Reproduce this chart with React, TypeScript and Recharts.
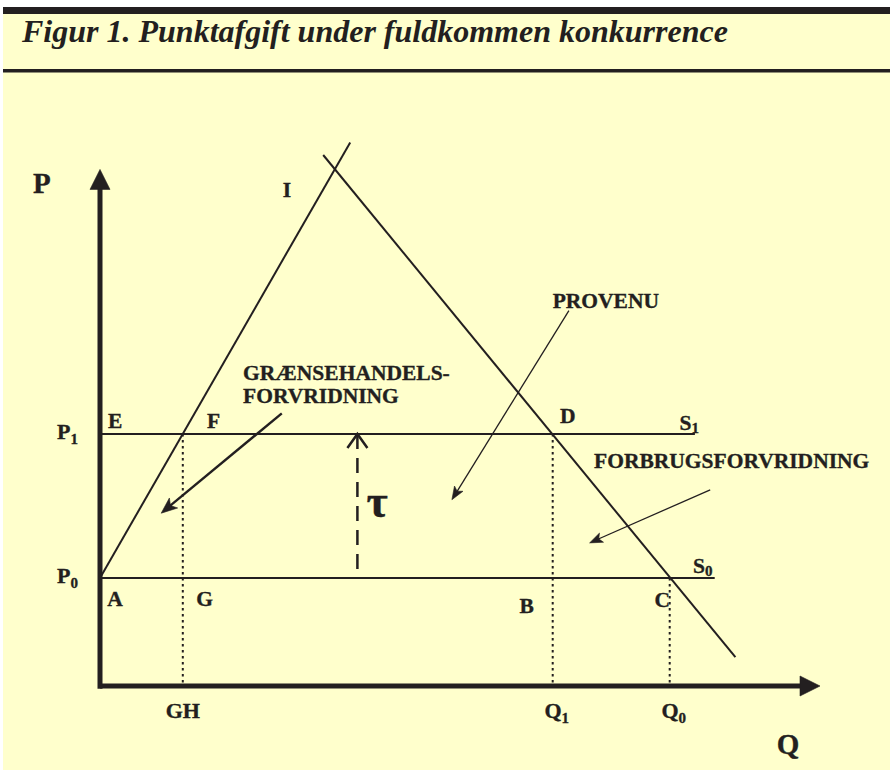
import React from 'react';
import { ComposedChart, Line, XAxis, YAxis, ReferenceLine, ReferenceDot } from 'recharts';

const INK = '#231f20';
const BG = '#ffffcc';
const FONT = "'Liberation Serif', 'Times New Roman', Times, serif";
const TITLE = 'Figur 1. Punktafgift under fuldkommen konkurrence';

// Axis ticks (quantities and prices)
const xTicks = [9.2, 50.3, 63.3];
const xTickLabels = [['GH', ''], ['Q', '1'], ['Q', '0']];
const yTicks = [12, 28];
const yTickLabels = [['P', '0'], ['P', '1']];

// Series
const supplyS0 = [{ q: 0, p: 12 }, { q: 68.3, p: 12 }];
const supplyS1 = [{ q: 0, p: 28 }, { q: 66.1, p: 28 }];
const demand = [{ q: 24.8, p: 59 }, { q: 70.6, p: 3.2 }];
const borderTrade = [{ q: 0, p: 12 }, { q: 27.8, p: 60.4 }];
const dropGH = [{ q: 9.2, p: 28 }, { q: 9.2, p: 0 }];
const dropQ1 = [{ q: 50.3, p: 28 }, { q: 50.3, p: 0 }];
const dropQ0 = [{ q: 63.3, p: 12 }, { q: 63.3, p: 0 }];

// Arrows: [from, to]
const axisArrows = [
  { from: [0, -0.3], to: [0, 57.4], kind: 'axis' },
  { from: [0, 0], to: [80, 0], kind: 'axis' },
];
const taxArrow = [{ from: [28.6, 12.9], to: [28.6, 28], kind: 'dashed' }];
const noteArrows = [
  { from: [20.2, 30.3], to: [6.8, 19.2], kind: 'thick' },
  { from: [52.1, 41.7], to: [39.1, 20.7], kind: 'thin' },
  { from: [67.8, 21.8], to: [54.4, 15.9], kind: 'thin' },
];

// Text labels
const pointLabels = [
  { text: 'P', q: -7.44, p: 54.8, size: 29 },
  { text: 'I', q: 20.3, p: 54.3 },
  { text: 'E', q: 0.9, p: 28.7 },
  { text: 'F', q: 11.9, p: 28.7 },
  { text: 'D', q: 51.1, p: 29.2 },
  { text: 'S', sub: '1', q: 64.4, p: 28.4 },
  { text: 'S', sub: '0', q: 65.9, p: 12.6 },
  { text: 'A', q: 0.8, p: 8.9 },
  { text: 'G', q: 10.7, p: 8.9 },
  { text: 'B', q: 46.6, p: 8.1 },
  { text: 'C', q: 61.6, p: 8.8 },
  { text: 'Q', q: 75.2, p: -7.6, size: 29 },
  { text: 'τ', q: 29.6, p: 18.8, size: 46 },
  { text: 'GRÆNSEHANDELS-', q: 15.9, p: 34 },
  { text: 'FORVRIDNING', q: 15.9, p: 31.4 },
  { text: 'PROVENU', q: 50.3, p: 42 },
  { text: 'FORBRUGSFORVRIDNING', q: 54.9, p: 24.2 },
];

const STYLES: any = {
  axis: { w: 5, head: 20, half: 10, notch: 20 },
  thick: { w: 2.4, head: 16, half: 6.5, notch: 12 },
  thin: { w: 1.3, head: 13, half: 5, notch: 10 },
};

function makeArrow(kind: string) {
  return (props: any) => {
    const { x1, y1, x2, y2 } = props;
    const dx = x2 - x1;
    const dy = y2 - y1;
    const len = Math.hypot(dx, dy) || 1;
    const ux = dx / len;
    const uy = dy / len;
    const nx = -uy;
    const ny = ux;
    if (kind === 'dashed') {
      const b = 14;
      const h = 10;
      return (
        <g>
          <line x1={x2} y1={y2} x2={x1} y2={y1} stroke={INK} strokeWidth={2.5} strokeDasharray="15 9" />
          <polyline
            points={`${x2 - ux * b + nx * h},${y2 - uy * b + ny * h} ${x2},${y2} ${x2 - ux * b - nx * h},${y2 - uy * b - ny * h}`}
            fill="none"
            stroke={INK}
            strokeWidth={2.5}
          />
        </g>
      );
    }
    const s = STYLES[kind];
    const bx = x2 - ux * s.head;
    const by = y2 - uy * s.head;
    const pts = [
      [x2, y2],
      [bx + nx * s.half, by + ny * s.half],
      [x2 - ux * s.notch, y2 - uy * s.notch],
      [bx - nx * s.half, by - ny * s.half],
    ]
      .map((p) => p.join(','))
      .join(' ');
    const ex = x2 - ux * (s.notch - 1);
    const ey = y2 - uy * (s.notch - 1);
    return (
      <g>
        <line x1={x1} y1={y1} x2={ex} y2={ey} stroke={INK} strokeWidth={s.w} />
        <polygon points={pts} fill={INK} stroke={INK} strokeWidth={0.6} strokeLinejoin="miter" />
      </g>
    );
  };
}

function labelShape(lab: any) {
  return (props: any) => {
    const size = lab.size || 21.5;
    return (
      <text
        x={props.cx}
        y={props.cy}
        fontFamily={FONT}
        fontWeight="bold"
        fontSize={size}
        fill={INK}
        stroke={INK}
        strokeWidth={0.35}
      >
        <tspan>{lab.text}</tspan>
        {lab.sub ? (
          <tspan dy={3} fontSize={15}>
            {lab.sub}
          </tspan>
        ) : null}
      </text>
    );
  };
}

const XTick = (props: any) => {
  const { x, y, payload } = props;
  const i = xTicks.indexOf(payload.value);
  const [main, sub] = xTickLabels[i] || ['', ''];
  return (
    <text
      x={x + (sub ? 4 : 0)}
      y={y}
      textAnchor="middle"
      fontFamily={FONT}
      fontWeight="bold"
      fontSize={22}
      fill={INK}
      stroke={INK}
      strokeWidth={0.35}
    >
      <tspan>{main}</tspan>
      {sub ? (
        <tspan dy={5} fontSize={15}>
          {sub}
        </tspan>
      ) : null}
    </text>
  );
};

const YTick = (props: any) => {
  const { x, y, payload } = props;
  const i = yTicks.indexOf(payload.value);
  const [main, sub] = yTickLabels[i] || ['', ''];
  return (
    <text
      x={x}
      y={y + 4.5}
      textAnchor="end"
      fontFamily={FONT}
      fontWeight="bold"
      fontSize={22}
      fill={INK}
      stroke={INK}
      strokeWidth={0.35}
    >
      <tspan>{main}</tspan>
      <tspan dy={5} fontSize={15}>
        {sub}
      </tspan>
    </text>
  );
};

const solid = { stroke: INK, strokeWidth: 2, dot: false, activeDot: false, isAnimationActive: false } as any;
const dotted = { ...solid, strokeWidth: 2, strokeDasharray: '2.5 3.5' } as any;

export default function App() {
  return (
    <div style={{ position: 'absolute', left: 0, top: 0, width: 890, height: 770, background: '#fff' }}>
      <svg width={890} height={770} style={{ position: 'absolute', left: 0, top: 0 }}>
        <rect x={3} y={7} width={887} height={763} fill={BG} />
        <rect x={3} y={7} width={887} height={7} fill={INK} />
        <rect x={3} y={69} width={887} height={3.5} fill={INK} />
        <text x={22} y={42} fontFamily={FONT} fontWeight="bold" fontStyle="italic" fontSize={32} fill={INK}>
          {TITLE}
        </text>
      </svg>
      <div style={{ position: 'absolute', left: 0, top: 0 }}>
        <ComposedChart width={890} height={770} margin={{ top: 137, right: 70, bottom: 54, left: 40 }}>
          <XAxis
            dataKey="q"
            type="number"
            domain={[0, 80]}
            ticks={xTicks}
            interval={0}
            height={30}
            axisLine={false}
            tickLine={false}
            tickSize={0}
            tickMargin={32}
            tick={<XTick />}
          />
          <YAxis
            dataKey="p"
            type="number"
            domain={[0, 61]}
            ticks={yTicks}
            interval={0}
            width={60}
            axisLine={false}
            tickLine={false}
            tickSize={0}
            tickMargin={22}
            tick={<YTick />}
          />
          <Line data={dropGH} dataKey="p" {...dotted} />
          <Line data={dropQ1} dataKey="p" {...dotted} />
          <Line data={dropQ0} dataKey="p" {...dotted} />
          <Line data={supplyS1} dataKey="p" {...solid} />
          <Line data={supplyS0} dataKey="p" {...solid} />
          <Line data={borderTrade} dataKey="p" {...solid} />
          <Line data={demand} dataKey="p" {...solid} />
          {[...axisArrows, ...taxArrow, ...noteArrows].map((a, i) => (
            <ReferenceLine
              key={'a' + i}
              segment={[
                { x: a.from[0], y: a.from[1] },
                { x: a.to[0], y: a.to[1] },
              ]}
              ifOverflow="visible"
              shape={makeArrow(a.kind)}
            />
          ))}
          {pointLabels.map((lab, i) => (
            <ReferenceDot key={'l' + i} x={lab.q} y={lab.p} r={0} ifOverflow="visible" shape={labelShape(lab)} />
          ))}
        </ComposedChart>
      </div>
    </div>
  );
}
